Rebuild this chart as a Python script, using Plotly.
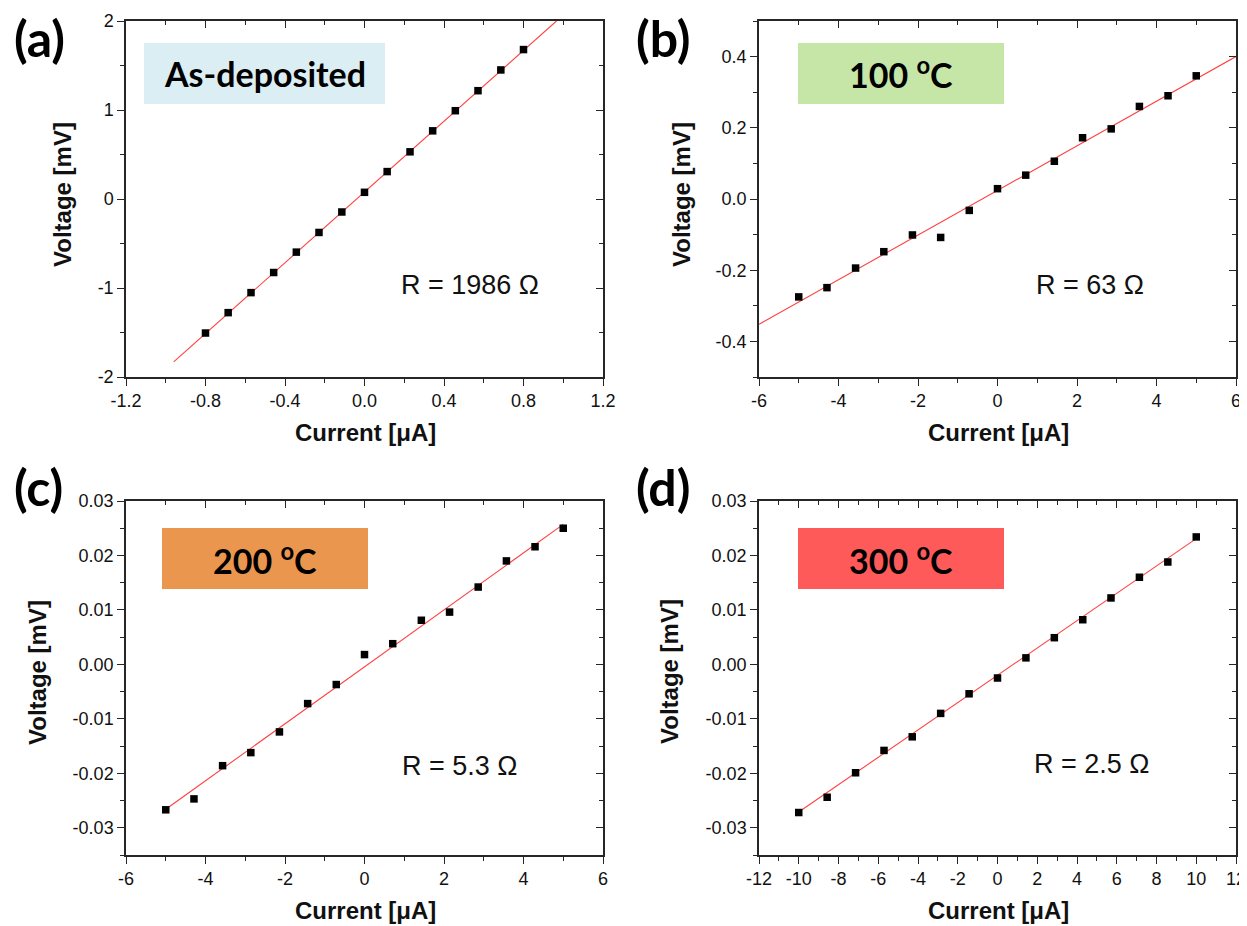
import plotly.graph_objects as go

W, H = 1247, 926
OFF = 8  # page body margin compensation (px)

# ---------------- data ----------------
# (a) As-deposited
a_current = [-0.8, -0.686, -0.571, -0.457, -0.343, -0.229, -0.114, 0.0,
             0.114, 0.229, 0.343, 0.457, 0.571, 0.686, 0.8]
a_voltage = [-1.506, -1.277, -1.052, -0.826, -0.597, -0.376, -0.146, 0.075,
             0.308, 0.530, 0.766, 0.992, 1.217, 1.450, 1.679]
a_fit_x = [-0.96, 0.966]
a_fit_y = [-1.83, 2.0]

# (b) 100 C
b_current = [-5.0, -4.29, -3.57, -2.86, -2.14, -1.43, -0.71, 0.0,
             0.71, 1.43, 2.14, 2.86, 3.57, 4.29, 5.0]
b_voltage = [-0.275, -0.249, -0.194, -0.148, -0.101, -0.108, -0.032, 0.029,
             0.067, 0.106, 0.172, 0.197, 0.260, 0.290, 0.346]
b_fit_x = [-6.0, 6.0]
b_fit_y = [-0.352, 0.40]

# (c) 200 C
c_current = [-5.0, -4.29, -3.57, -2.86, -2.14, -1.43, -0.71, 0.0,
             0.71, 1.43, 2.14, 2.86, 3.57, 4.29, 5.0]
c_voltage = [-0.0267, -0.0247, -0.0186, -0.0162, -0.0124, -0.0072, -0.0037, 0.0018,
             0.0038, 0.0081, 0.0096, 0.0142, 0.0190, 0.0216, 0.0250]
c_fit_x = [-5.0, 5.0]
c_fit_y = [-0.0266, 0.0257]

# (d) 300 C
d_current = [-10.0, -8.57, -7.14, -5.71, -4.29, -2.86, -1.43, 0.0,
             1.43, 2.86, 4.29, 5.71, 7.14, 8.57, 10.0]
d_voltage = [-0.0272, -0.0244, -0.0199, -0.0158, -0.0133, -0.0090, -0.0054, -0.0025,
             0.0012, 0.0049, 0.0082, 0.0122, 0.0160, 0.0188, 0.0234]
d_fit_x = [-10.0, 10.0]
d_fit_y = [-0.0271, 0.0231]

# tick labels
a_xticks = [-1.2, -0.8, -0.4, 0.0, 0.4, 0.8, 1.2]
a_xtext = ["-1.2", "-0.8", "-0.4", "0.0", "0.4", "0.8", "1.2"]
a_yticks = [-2, -1, 0, 1, 2]
a_ytext = ["-2", "-1", "0", "1", "2"]

b_xticks = [-6, -4, -2, 0, 2, 4, 6]
b_xtext = ["-6", "-4", "-2", "0", "2", "4", "6"]
b_yticks = [-0.4, -0.2, 0.0, 0.2, 0.4]
b_ytext = ["-0.4", "-0.2", "0.0", "0.2", "0.4"]

c_xticks = [-6, -4, -2, 0, 2, 4, 6]
c_xtext = ["-6", "-4", "-2", "0", "2", "4", "6"]
cd_yticks = [-0.03, -0.02, -0.01, 0.0, 0.01, 0.02, 0.03]
cd_ytext = ["-0.03", "-0.02", "-0.01", "0.00", "0.01", "0.02", "0.03"]

d_xticks = [-12, -10, -8, -6, -4, -2, 0, 2, 4, 6, 8, 10, 12]
d_xtext = ["-12", "-10", "-8", "-6", "-4", "-2", "0", "2", "4", "6", "8", "10", "12"]

panel_labels = ["(a)", "(b)", "(c)", "(d)"]
box_labels = ["As-deposited", "100 <sup>o</sup>C", "200 <sup>o</sup>C", "300 <sup>o</sup>C"]
box_colors = ["#DAEEF3", "#C6E6A8", "#EB964F", "#FF5A5A"]
r_labels = ["R = 1986 \u03a9", "R = 63 \u03a9", "R = 5.3 \u03a9", "R = 2.5 \u03a9"]

# ---------------- layout helpers ----------------
def px(x):
    return (x - OFF) / W

def py(y):
    return 1 - (y - OFF) / H

panels = [
    dict(x0=126, x1=603, y0=21, y1=377),
    dict(x0=759, x1=1236, y0=21, y1=377),
    dict(x0=126, x1=603, y0=501, y1=855),
    dict(x0=759, x1=1236, y0=501, y1=855),
]

xranges = [[-1.2, 1.2], [-6, 6], [-6, 6], [-12, 12]]
yranges = [[-2, 2], [-0.5, 0.5], [-0.035, 0.03], [-0.035, 0.03]]
xt = [(a_xticks, a_xtext), (b_xticks, b_xtext), (c_xticks, c_xtext), (d_xticks, d_xtext)]
yt = [(a_yticks, a_ytext), (b_yticks, b_ytext), (cd_yticks, cd_ytext), (cd_yticks, cd_ytext)]
xminor = [0.2, 1, 1, 1]
yminor = [0.5, 0.1, 0.005, 0.005]

series = [
    (a_current, a_voltage, a_fit_x, a_fit_y),
    (b_current, b_voltage, b_fit_x, b_fit_y),
    (c_current, c_voltage, c_fit_x, c_fit_y),
    (d_current, d_voltage, d_fit_x, d_fit_y),
]

fig = go.Figure()
AX_COLOR = "#262626"
TICK_FONT = dict(family="Liberation Sans, Arial", size=18, color="#111111")
LW = 1.5

layout_axes = {}
for i in range(4):
    n = i + 1
    xa = "x" if n == 1 else f"x{n}"
    ya = "y" if n == 1 else f"y{n}"
    xkey = "xaxis" if n == 1 else f"xaxis{n}"
    ykey = "yaxis" if n == 1 else f"yaxis{n}"
    p = panels[i]
    xdom = [px(p["x0"]), px(p["x1"])]
    ydom = [py(p["y1"]), py(p["y0"])]

    cx, vy, fx, fy = series[i]
    fig.add_trace(go.Scatter(x=fx, y=fy, mode="lines", xaxis=xa, yaxis=ya,
                             line=dict(color="#FF4040", width=1.1),
                             showlegend=False, hoverinfo="skip"))
    fig.add_trace(go.Scatter(x=cx, y=vy, mode="markers", xaxis=xa, yaxis=ya,
                             marker=dict(symbol="square", size=7.5, color="black",
                                         line=dict(width=0)),
                             showlegend=False))

    common = dict(tickwidth=1.2, tickcolor=AX_COLOR, showline=True,
                  linecolor=AX_COLOR, linewidth=LW, showgrid=False,
                  zeroline=False, fixedrange=True, automargin=False)

    layout_axes[xkey] = dict(
        domain=xdom, anchor=ya, range=xranges[i], tickmode="array",
        tickvals=xt[i][0], ticktext=xt[i][1], ticks="outside", ticklen=7,
        tickfont=TICK_FONT,
        minor=dict(dtick=xminor[i], tick0=0, ticks="outside", ticklen=4,
                   tickcolor=AX_COLOR, tickwidth=1.2, showgrid=False),
        **common,
    )
    layout_axes[ykey] = dict(
        domain=ydom, anchor=xa, range=yranges[i], tickmode="array",
        tickvals=yt[i][0], ticktext=yt[i][1], ticks="outside", ticklen=7,
        tickfont=TICK_FONT,
        minor=dict(dtick=yminor[i], tick0=0, ticks="outside", ticklen=4,
                   tickcolor=AX_COLOR, tickwidth=1.2, showgrid=False),
        **common,
    )

    # mirrored top / right axes with inside ticks
    m = n + 4
    xm = f"x{m}"
    ym = f"y{m}"
    layout_axes[f"xaxis{m}"] = dict(
        overlaying=xa, side="top", anchor=ym, range=xranges[i], tickmode="array",
        tickvals=xt[i][0], showticklabels=False, ticks="inside", ticklen=7,
        minor=dict(dtick=xminor[i], tick0=0, ticks="inside", ticklen=4,
                   tickcolor=AX_COLOR, tickwidth=1.2, showgrid=False),
        **common,
    )
    layout_axes[f"yaxis{m}"] = dict(
        overlaying=ya, side="right", anchor=xm, range=yranges[i], tickmode="array",
        tickvals=yt[i][0], showticklabels=False, ticks="inside", ticklen=7,
        minor=dict(dtick=yminor[i], tick0=0, ticks="inside", ticklen=4,
                   tickcolor=AX_COLOR, tickwidth=1.2, showgrid=False),
        **common,
    )
    fig.add_trace(go.Scatter(x=[None], y=[None], xaxis=xm, yaxis=ym,
                             showlegend=False, hoverinfo="skip"))

fig.update_layout(**layout_axes)

# ---------------- annotations & boxes ----------------
annotations = []
shapes = []

label_pos = [(39, 38), (663, 38), (38, 487), (663, 487)]
box_rects = [(144, 43, 385, 104), (798, 43, 1004, 104),
             (162, 528, 368, 589), (798, 528, 1004, 589)]
r_pos = [(470, 285), (1090, 285), (460, 766), (1092, 764)]
ylab_pos = [(62, 195), (681, 195), (37, 673), (669, 672)]
xlab_pos = [(365, 432), (998, 432), (365, 910), (998, 910)]

for i in range(4):
    lx, ly = label_pos[i]
    annotations.append(dict(text=f"<b>{panel_labels[i]}</b>", x=px(lx), y=py(ly),
                            xref="paper", yref="paper", showarrow=False,
                            xanchor="center", yanchor="middle",
                            font=dict(family="Lato, Open Sans", size=50, color="black")))
    bx0, by0, bx1, by1 = box_rects[i]
    shapes.append(dict(type="rect", xref="paper", yref="paper",
                       x0=px(bx0), x1=px(bx1), y0=py(by1), y1=py(by0),
                       fillcolor=box_colors[i], line=dict(width=0), layer="below"))
    annotations.append(dict(text=f"<b>{box_labels[i]}</b>", x=px((bx0 + bx1) / 2),
                            y=py((by0 + by1) / 2), xref="paper", yref="paper",
                            showarrow=False, xanchor="center", yanchor="middle",
                            font=dict(family="Lato, Open Sans", size=34, color="black")))
    rx, ry = r_pos[i]
    annotations.append(dict(text=r_labels[i], x=px(rx), y=py(ry), xref="paper",
                            yref="paper", showarrow=False, xanchor="center",
                            yanchor="middle",
                            font=dict(family="Liberation Sans, Arial", size=27,
                                      color="#111111")))
    yx, yy = ylab_pos[i]
    annotations.append(dict(text="<b>Voltage [mV]</b>", x=px(yx), y=py(yy),
                            xref="paper", yref="paper", showarrow=False,
                            textangle=-90, xanchor="center", yanchor="middle",
                            font=dict(family="Liberation Sans, Arial", size=24,
                                      color="#111111")))
    xx, xy = xlab_pos[i]
    annotations.append(dict(text="<b>Current [\u03bcA]</b>", x=px(xx), y=py(xy),
                            xref="paper", yref="paper", showarrow=False,
                            xanchor="center", yanchor="middle",
                            font=dict(family="Liberation Sans, Arial", size=24,
                                      color="#111111")))

fig.update_layout(
    width=W, height=H,
    margin=dict(l=0, r=0, t=0, b=0, pad=0, autoexpand=False),
    paper_bgcolor="white", plot_bgcolor="white",
    annotations=annotations, shapes=shapes, showlegend=False,
)

fig.write_html("out.html")
